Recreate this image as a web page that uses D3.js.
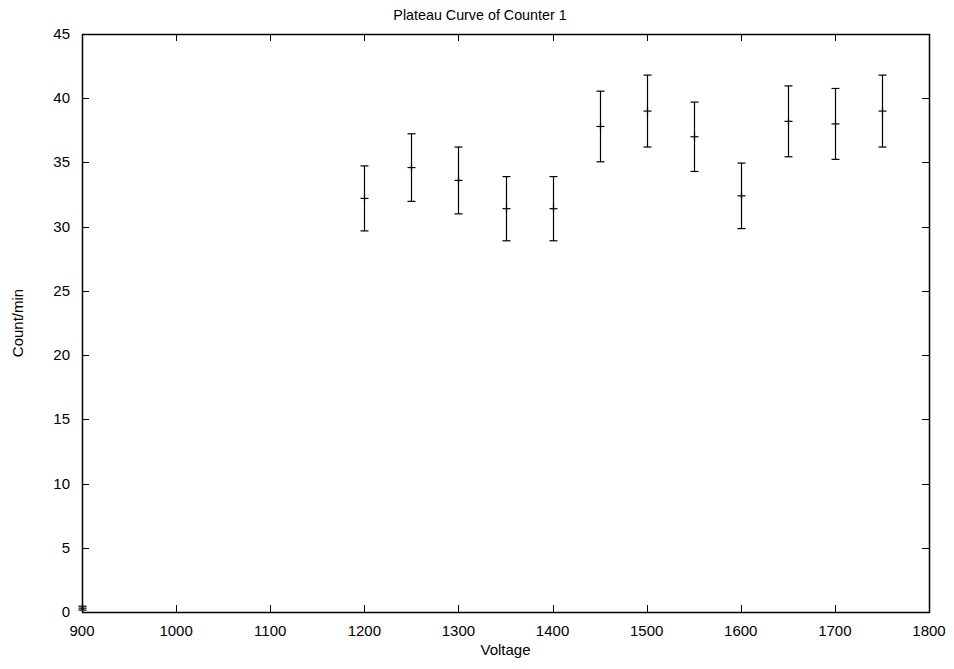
<!DOCTYPE html>
<html>
<head>
<meta charset="utf-8">
<script src="https://cdn.jsdelivr.net/npm/d3@7"></script>
<style>
body { margin: 0; background: #fff; }
text { font-family: "Liberation Sans", Arial, sans-serif; font-size: 15px; fill: #000; }
</style>
</head>
<body>
<script>
// data
var voltage = [900, 1200, 1250, 1300, 1350, 1400, 1450, 1500, 1550, 1600, 1650, 1700, 1750]
var counts  = [0.3, 32.2, 34.6, 33.6, 31.4, 31.4, 37.8, 39.0, 37.0, 32.4, 38.2, 38.0, 39.0]
var errors  = [0.15, 2.53, 2.63, 2.6, 2.5, 2.5, 2.75, 2.8, 2.7, 2.55, 2.76, 2.76, 2.8]
var xTicks = [900, 1000, 1100, 1200, 1300, 1400, 1500, 1600, 1700, 1800]
var yTicks = [0, 5, 10, 15, 20, 25, 30, 35, 40, 45]

var W = 954, H = 669
var pLeft = 82, pRight = 929, pTop = 34, pBottom = 612

var svg = d3.select("body").append("svg")
	.attr("width", W)
	.attr("height", H)

var x = d3.scaleLinear().domain([900, 1800]).range([pLeft, pRight])
var y = d3.scaleLinear().domain([0, 45]).range([pBottom, pTop])

var tl = 7 // tick length

// ticks (inward, mirrored)
var g = svg.append("g").attr("stroke", "#000").attr("stroke-width", 1)
xTicks.forEach(function(t) {
	var px = Math.round(x(t)) + 0.5
	g.append("line").attr("x1", px).attr("x2", px).attr("y1", pBottom).attr("y2", pBottom - tl)
	g.append("line").attr("x1", px).attr("x2", px).attr("y1", pTop).attr("y2", pTop + tl)
})
yTicks.forEach(function(t) {
	var py = Math.round(y(t)) + 0.5
	g.append("line").attr("x1", pLeft).attr("x2", pLeft + tl).attr("y1", py).attr("y2", py)
	g.append("line").attr("x1", pRight).attr("x2", pRight - tl).attr("y1", py).attr("y2", py)
})

svg.append("g").selectAll("text").data(xTicks).enter()
	.append("text")
	.attr("x", function(d) { return x(d) })
	.attr("y", pBottom + 24)
	.attr("text-anchor", "middle")
	.text(function(d) { return d })

svg.append("g").selectAll("text").data(yTicks).enter()
	.append("text")
	.attr("x", pLeft - 12)
	.attr("y", function(d) { return y(d) + 5 })
	.attr("text-anchor", "end")
	.text(function(d) { return d })

// frame
svg.append("rect")
	.attr("x", pLeft + 0.5).attr("y", pTop + 0.5)
	.attr("width", pRight - pLeft).attr("height", pBottom - pTop)
	.attr("fill", "none").attr("stroke", "#000").attr("stroke-width", 1.5)

// error bars
var cap = 4
var pts = svg.append("g").attr("stroke", "#000").attr("stroke-width", 1.2)
voltage.forEach(function(v, i) {
	var px = Math.round(x(v)) + 0.5
	var yc = y(counts[i]), y1 = y(counts[i] + errors[i]), y0 = y(counts[i] - errors[i])
	pts.append("line").attr("x1", px).attr("x2", px).attr("y1", y1).attr("y2", y0)
	pts.append("line").attr("x1", px - cap).attr("x2", px + cap).attr("y1", y1).attr("y2", y1)
	pts.append("line").attr("x1", px - cap).attr("x2", px + cap).attr("y1", y0).attr("y2", y0)
	// plus point
	pts.append("line").attr("x1", px - cap).attr("x2", px + cap).attr("y1", yc).attr("y2", yc)
	pts.append("line").attr("x1", px).attr("x2", px).attr("y1", yc - cap).attr("y2", yc + cap)
})

// titles
svg.append("text")
	.attr("x", 480).attr("y", 20)
	.attr("text-anchor", "middle")
	.style("font-size", "14.3px")
	.text("Plateau Curve of Counter 1")

svg.append("text")
	.attr("x", (pLeft + pRight) / 2).attr("y", pBottom + 43)
	.attr("text-anchor", "middle")
	.text("Voltage")

svg.append("text")
	.attr("transform", "translate(23," + ((pTop + pBottom) / 2) + ") rotate(-90)")
	.attr("text-anchor", "middle")
	.text("Count/min")
</script>
</body>
</html>
